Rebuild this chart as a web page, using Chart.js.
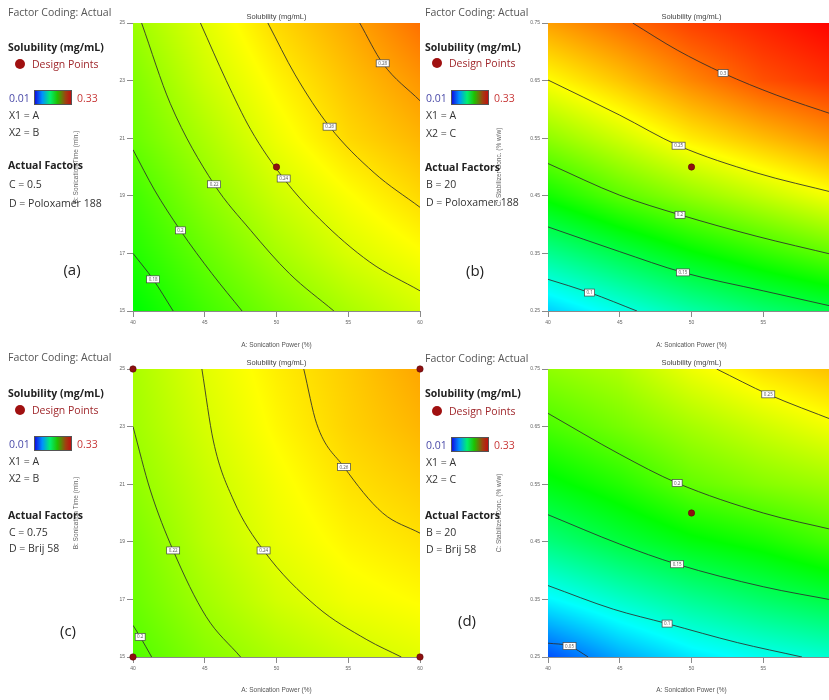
<!DOCTYPE html>
<html>
<head>
<meta charset="utf-8">
<script src="https://cdn.jsdelivr.net/npm/chart.js@4.4.1/dist/chart.umd.min.js"></script>
<style>
  html, body { margin: 0; padding: 0; background: #fff; }
  body { position: relative; width: 829px; height: 700px; overflow: hidden; font-family: "Open Sans", sans-serif; }
  canvas { position: absolute; }
  .t { position: absolute; white-space: nowrap; font-size: 10.5px; line-height: 14px; color: #333; }
  .fc { color: #555; }
  .b { font-weight: 700; color: #222; }
  .dp { color: #a0282c; }
  .lo { color: #4a4aa8; }
  .hi { color: #c83838; }
  .tag { font-size: 15px; line-height: 20px; color: #222; transform: translateX(-50%); }
  .dot { position: absolute; width: 10px; height: 10px; border-radius: 50%; background: #a01010; }
  .bar { position: absolute; width: 38px; height: 15px; box-sizing: border-box; border: 1px solid #555;
         background: linear-gradient(90deg, #1010e0 0%, #0090ff 20%, #00f070 42%, #20c000 62%, #a04010 85%, #c01010 100%); }
</style>
</head>
<body>
<script>
// axes ticks
const powerTicks = [40, 45, 50, 55, 60];
const timeTicks = [15, 17, 19, 21, 23, 25];
const concTicks = [0.25, 0.35, 0.45, 0.55, 0.65, 0.75];

// solubility at each grid node, one row per y tick (bottom row first), one column per power tick
const fieldA = [
  [0.168, 0.190, 0.208, 0.223, 0.236],
  [0.180, 0.202, 0.222, 0.238, 0.249],
  [0.190, 0.214, 0.234, 0.249, 0.262],
  [0.203, 0.224, 0.245, 0.262, 0.273],
  [0.210, 0.234, 0.253, 0.269, 0.283],
  [0.219, 0.241, 0.262, 0.277, 0.295]
];
const fieldB = [
  [0.075, 0.097, 0.118, 0.135, 0.148],
  [0.125, 0.147, 0.168, 0.185, 0.201],
  [0.175, 0.198, 0.216, 0.232, 0.248],
  [0.215, 0.235, 0.256, 0.271, 0.285],
  [0.250, 0.268, 0.288, 0.305, 0.315],
  [0.280, 0.295, 0.310, 0.320, 0.330]
];
const fieldC = [
  [0.195, 0.212, 0.224, 0.234, 0.241],
  [0.203, 0.221, 0.236, 0.246, 0.251],
  [0.208, 0.228, 0.243, 0.253, 0.259],
  [0.215, 0.232, 0.247, 0.259, 0.266],
  [0.220, 0.237, 0.252, 0.264, 0.273],
  [0.223, 0.241, 0.255, 0.266, 0.278]
];
const fieldD = [
  [0.035, 0.063, 0.083, 0.095, 0.105],
  [0.088, 0.107, 0.124, 0.138, 0.150],
  [0.131, 0.150, 0.166, 0.177, 0.192],
  [0.165, 0.181, 0.201, 0.212, 0.220],
  [0.193, 0.207, 0.222, 0.235, 0.247],
  [0.215, 0.225, 0.245, 0.260, 0.270]
];

// contour levels, their traced paths and where the level label sits
const levelsA = [0.18, 0.2, 0.22, 0.24, 0.26, 0.28];
const pathsA = [
  [[40, 17.0], [41.4, 16.1], [42.8, 15]],
  [[40, 20.6], [41.5, 19.2], [43.3, 17.8], [45.5, 16.3], [47.6, 15]],
  [[40.6, 25], [42.6, 22.2], [45.65, 19.4], [48.2, 17.8], [50.9, 16.3], [54, 15]],
  [[44.7, 25], [46.5, 23], [48.2, 21.3], [50.5, 19.6], [53, 18.2], [56.5, 16.7], [60, 15.7]],
  [[49.4, 25], [51.3, 23.2], [53.7, 21.4], [56.8, 19.8], [60, 18.6]],
  [[55.8, 25], [57.4, 23.6], [60, 22.3]]
];
const tagsA = [[41.4, 16.1], [43.3, 17.8], [45.65, 19.4], [50.5, 19.6], [53.7, 21.4], [57.4, 23.6]];

const levelsB = [0.3, 0.25, 0.2, 0.15, 0.1];
const pathsB = [
  [[45.9, 0.75], [49, 0.703], [52.2, 0.663], [55.9, 0.625], [60, 0.59]],
  [[40, 0.651], [45, 0.59], [49.1, 0.537], [54.5, 0.49], [60, 0.455]],
  [[40, 0.506], [45, 0.451], [49.2, 0.417], [54.5, 0.38], [60, 0.347]],
  [[40, 0.396], [45, 0.353], [49.4, 0.317], [55, 0.285], [60, 0.257]],
  [[40, 0.305], [42.9, 0.282], [46.2, 0.25]]
];
const tagsB = [[52.2, 0.663], [49.1, 0.537], [49.2, 0.417], [49.4, 0.317], [42.9, 0.282]];

const levelsC = [0.2, 0.22, 0.24, 0.26];
const pathsC = [
  [[40, 16.1], [40.5, 15.7], [41.3, 15]],
  [[40, 23.0], [41.2, 20.8], [42.8, 18.7], [45.1, 16.4], [47.5, 15]],
  [[44.8, 25], [45.6, 22.5], [47.0, 20.45], [49.1, 18.7], [52.8, 16.75], [56.3, 15.6], [58.7, 15]],
  [[51.9, 25], [52.8, 23.1], [54.7, 21.6], [57.4, 20.0], [60, 19.3]]
];
const tagsC = [[40.5, 15.7], [42.8, 18.7], [49.1, 18.7], [54.7, 21.6]];

const levelsD = [0.25, 0.2, 0.15, 0.1, 0.05];
const pathsD = [
  [[51.75, 0.75], [55.35, 0.706], [60, 0.66]],
  [[40, 0.673], [45, 0.602], [49, 0.552], [55, 0.5], [60, 0.47]],
  [[40, 0.497], [45, 0.446], [49, 0.411], [55, 0.372], [60, 0.348]],
  [[40, 0.374], [44.55, 0.333], [48.3, 0.308], [53.2, 0.275], [57.7, 0.25]],
  [[40, 0.274], [41.5, 0.269], [42.8, 0.25]]
];
const tagsD = [[55.35, 0.706], [49, 0.552], [49, 0.411], [48.3, 0.308], [41.5, 0.269]];

// design points
const designA = [[50, 20]];
const designB = [[50, 0.5]];
const designC = [[40, 15], [40, 25], [60, 15], [60, 25]];
const designD = [[50, 0.5]];

// colour scale 0.01 .. 0.33 : blue - cyan - green - yellow - red
const LOW = 0.01, HIGH = 0.33;
function colourOf(v) {
  let t = (v - LOW) / (HIGH - LOW);
  t = Math.max(0, Math.min(1, t));
  const stops = [[0, 0, 255], [0, 255, 255], [0, 255, 0], [255, 255, 0], [255, 0, 0]];
  const s = t * 4, i = Math.min(3, Math.floor(s)), f = s - i;
  const a = stops[i], b = stops[i + 1];
  return [a[0] + (b[0] - a[0]) * f, a[1] + (b[1] - a[1]) * f, a[2] + (b[2] - a[2]) * f];
}

function sample(field, xs, ys, vx, vy) {
  let i = 0; while (i < xs.length - 2 && vx > xs[i + 1]) i++;
  let j = 0; while (j < ys.length - 2 && vy > ys[j + 1]) j++;
  let fx = (vx - xs[i]) / (xs[i + 1] - xs[i]);
  let fy = (vy - ys[j]) / (ys[j + 1] - ys[j]);
  fx = Math.max(0, Math.min(1, fx)); fy = Math.max(0, Math.min(1, fy));
  return field[j][i] * (1 - fx) * (1 - fy) + field[j][i + 1] * fx * (1 - fy) +
         field[j + 1][i] * (1 - fx) * fy + field[j + 1][i + 1] * fx * fy;
}

function panel(cfg) {
  const cv = document.createElement('canvas');
  cv.width = cfg.w; cv.height = cfg.h;
  cv.style.left = cfg.left + 'px'; cv.style.top = cfg.top + 'px';
  document.body.appendChild(cv);

  // colour field under the lines
  const heat = {
    id: 'heat',
    beforeDatasetsDraw(chart) {
      const {ctx, chartArea: a, scales: {x, y}} = chart;
      const w = Math.round(a.right - a.left), h = Math.round(a.bottom - a.top);
      const img = ctx.createImageData(w, h);
      for (let j = 0; j < h; j++) {
        const vy = y.getValueForPixel(a.top + j + 0.5);
        for (let i = 0; i < w; i++) {
          const vx = x.getValueForPixel(a.left + i + 0.5);
          const c = colourOf(sample(cfg.field, powerTicks, cfg.ys, vx, vy));
          const k = (j * w + i) * 4;
          img.data[k] = c[0]; img.data[k + 1] = c[1]; img.data[k + 2] = c[2]; img.data[k + 3] = 255;
        }
      }
      ctx.putImageData(img, Math.round(a.left), Math.round(a.top));
    }
  };

  // little boxed level labels on the contours
  const tags = {
    id: 'tags',
    afterDatasetsDraw(chart) {
      const {ctx, scales: {x, y}} = chart;
      ctx.save();
      ctx.font = '4.5px "Open Sans"';
      ctx.textAlign = 'center'; ctx.textBaseline = 'middle';
      cfg.tags.forEach((p, k) => {
        const px = x.getPixelForValue(p[0]), py = y.getPixelForValue(p[1]);
        const s = String(cfg.levels[k]);
        const bw = s.length > 3 ? 13 : 10;
        ctx.fillStyle = '#fff';
        ctx.fillRect(px - bw / 2, py - 3.5, bw, 7);
        ctx.strokeStyle = '#444'; ctx.lineWidth = 0.7;
        ctx.strokeRect(px - bw / 2, py - 3.5, bw, 7);
        ctx.fillStyle = '#555';
        ctx.fillText(s, px, py + 0.3);
      });
      ctx.restore();
    }
  };

  const datasets = [{
    type: 'scatter',
    data: cfg.design.map(p => ({x: p[0], y: p[1]})),
    pointRadius: 3.2, pointBackgroundColor: '#8e1010', pointBorderColor: '#5e0a0a', pointBorderWidth: 0.6,
    clip: false
  }];
  cfg.paths.forEach(path => datasets.push({
    type: 'line',
    data: path.map(p => ({x: p[0], y: p[1]})),
    borderColor: 'rgba(45,45,45,0.85)', borderWidth: 1,
    pointRadius: 0, cubicInterpolationMode: 'monotone', fill: false
  }));

  const axisGrid = {drawOnChartArea: false, tickLength: 6, color: '#8a8a8a'};
  new Chart(cv, {
    type: 'scatter',
    data: {datasets},
    options: {
      responsive: false, animation: false, events: [],
      layout: {padding: {left: 0, right: 6, top: 0, bottom: 0}},
      plugins: {
        legend: {display: false}, tooltip: {enabled: false},
        title: {display: true, text: 'Solubility (mg/mL)', fullSize: false, color: '#444',
                font: {size: 7.5, weight: 'normal'}, padding: {top: 7, bottom: 2}}
      },
      scales: {
        x: {
          type: 'linear', min: 40, max: 60,
          afterBuildTicks: s => { s.ticks = powerTicks.map(v => ({value: v})); },
          afterFit: s => { s.height = cfg.xh; },
          grid: axisGrid, border: {color: '#8a8a8a'},
          ticks: {font: {size: 5}, color: '#666', padding: 3, maxRotation: 0},
          title: {display: true, text: 'A: Sonication Power (%)', color: '#555', font: {size: 6.5}, padding: {top: 0, bottom: 6}}
        },
        y: {
          type: 'linear', min: cfg.ys[0], max: cfg.ys[cfg.ys.length - 1],
          afterBuildTicks: s => { s.ticks = cfg.ys.map(v => ({value: v})); },
          afterFit: s => { s.width = cfg.yw; },
          grid: axisGrid, border: {color: '#8a8a8a'},
          ticks: {font: {size: 5}, color: '#666', padding: 2, callback: v => cfg.fmt(v)},
          title: {display: true, text: cfg.ytitle, color: '#666', font: {size: 6.5}, padding: {top: 2, bottom: 0}}
        }
      }
    },
    plugins: [heat, tags]
  });
}

const timeTitle = 'B: Sonication Time (min.)';
const concTitle = 'C: Stabilizer Conc. (% w/w)';
panel({left: 70, top: 5, w: 356, h: 350, yw: 63, xh: 44, ys: timeTicks, field: fieldA, paths: pathsA,
       levels: levelsA, tags: tagsA, design: designA, ytitle: timeTitle, fmt: v => String(v)});
panel({left: 493, top: 5, w: 348, h: 350, yw: 55, xh: 44, ys: concTicks, field: fieldB, paths: pathsB,
       levels: levelsB, tags: tagsB, design: designB, ytitle: concTitle, fmt: v => v.toFixed(2)});
panel({left: 70, top: 351, w: 356, h: 349, yw: 63, xh: 43, ys: timeTicks, field: fieldC, paths: pathsC,
       levels: levelsC, tags: tagsC, design: designC, ytitle: timeTitle, fmt: v => String(v)});
panel({left: 493, top: 351, w: 348, h: 349, yw: 55, xh: 43, ys: concTicks, field: fieldD, paths: pathsD,
       levels: levelsD, tags: tagsD, design: designD, ytitle: concTitle, fmt: v => v.toFixed(2)});

// legend blocks on the left of each plot
function text(x, cy, s, cls) {
  const d = document.createElement('div');
  d.className = 't ' + (cls || '');
  d.textContent = s;
  d.style.left = x + 'px';
  d.style.top = (cy - 7) + 'px';
  document.body.appendChild(d);
  return d;
}
function box(cls, x, y) {
  const d = document.createElement('div');
  d.className = cls;
  d.style.left = x + 'px'; d.style.top = y + 'px';
  document.body.appendChild(d);
}
function legend(x0, y, x2, factors, tag, tagX) {
  text(x0, y[0], 'Factor Coding: Actual', 'fc');
  text(x0, y[1], 'Solubility (mg/mL)', 'b');
  box('dot', x0 + 7, y[2] - 5);
  text(x0 + 24, y[2], 'Design Points', 'dp');
  text(x0 + 1, y[3], '0.01', 'lo');
  box('bar', x0 + 26, y[3] - 8);
  text(x0 + 69, y[3], '0.33', 'hi');
  text(x0 + 1, y[4], 'X1 = A');
  text(x0 + 1, y[5], 'X2 = ' + x2);
  text(x0, y[6], 'Actual Factors', 'b');
  text(x0 + 1, y[7], factors[0]);
  text(x0 + 1, y[8], factors[1]);
  const t = text(tagX, y[9], tag, 'tag');
  t.style.top = (y[9] - 10) + 'px';
}
legend(8, [12, 47, 64, 98, 115, 132, 165, 184, 203, 269], 'B', ['C = 0.5', 'D = Poloxamer 188'], '(a)', 72);
legend(425, [12, 47, 63, 98, 115, 133, 167, 184, 202, 270], 'C', ['B = 20', 'D = Poloxamer 188'], '(b)', 475);
legend(8, [357, 393, 410, 444, 461, 478, 515, 532, 548, 630], 'B', ['C = 0.75', 'D = Brij 58'], '(c)', 68);
legend(425, [358, 393, 411, 445, 462, 479, 515, 532, 549, 620], 'C', ['B = 20', 'D = Brij 58'], '(d)', 467);
</script>
</body>
</html>
